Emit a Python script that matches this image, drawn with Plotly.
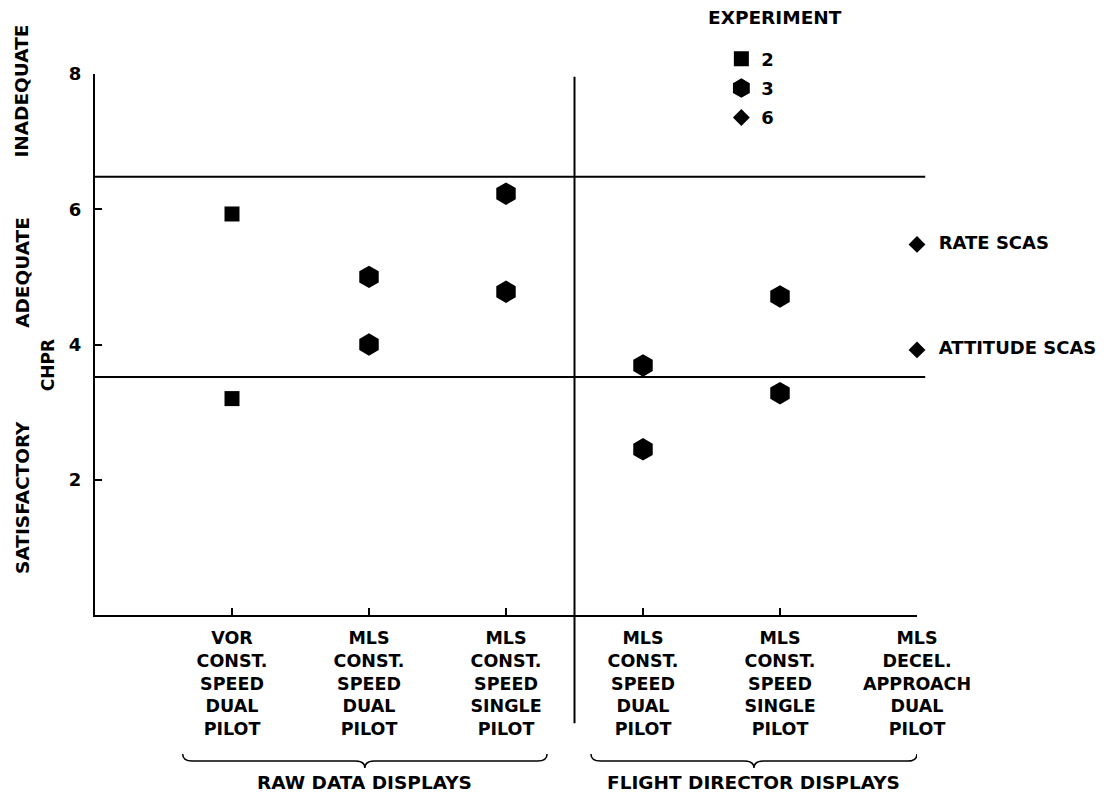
import plotly.graph_objects as go

# category axis (positions 1..6)
positions = [1, 2, 3, 4, 5, 6]
categories = [
    "VOR<br>CONST.<br>SPEED<br>DUAL<br>PILOT",
    "MLS<br>CONST.<br>SPEED<br>DUAL<br>PILOT",
    "MLS<br>CONST.<br>SPEED<br>SINGLE<br>PILOT",
    "MLS<br>CONST.<br>SPEED<br>DUAL<br>PILOT",
    "MLS<br>CONST.<br>SPEED<br>SINGLE<br>PILOT",
    "MLS<br>DECEL.<br>APPROACH<br>DUAL<br>PILOT",
]
y_ticks = [2, 4, 6, 8]

# experiment 2 (squares)
exp2_x = [1, 1]
exp2_y = [5.93, 3.2]
# experiment 3 (hexagons)
exp3_x = [2, 2, 3, 3, 4, 4, 5, 5]
exp3_y = [5.0, 4.0, 6.23, 4.78, 3.69, 2.45, 4.71, 3.28]
# experiment 6 (diamonds)
exp6_x = [6, 6]
exp6_y = [5.48, 3.92]
exp6_labels = ["RATE SCAS", "ATTITUDE SCAS"]

# rating boundaries
upper_limit = 6.48
lower_limit = 3.52
divider_x = 3.5

# groups under the axis
groups = ["RAW DATA DISPLAYS", "FLIGHT DIRECTOR DISPLAYS"]
group_start = [0.64, 3.62]
group_end = [3.3, 6.0]

zones = ["INADEQUATE", "ADEQUATE", "SATISFACTORY"]
zone_pos = [0.969, 0.634, 0.218]

FONT = "DejaVu Sans"

fig = go.Figure()

fig.add_trace(go.Scatter(
    x=exp2_x, y=exp2_y, mode="markers", name="2", legendgroup="e2",
    marker=dict(symbol="square", size=15, color="black"),
    cliponaxis=False
))
fig.add_trace(go.Scatter(
    x=exp3_x, y=exp3_y, mode="markers", name="3", legendgroup="e3",
    marker=dict(symbol="hexagon", size=19, color="black",
                line=dict(color="black", width=3)),
    cliponaxis=False
))
fig.add_trace(go.Scatter(
    x=exp6_x, y=exp6_y, mode="markers+text", name="6", legendgroup="e6",
    text=["  " + s for s in exp6_labels], textposition="middle right",
    textfont=dict(family=FONT, size=18, color="black", weight="bold"),
    marker=dict(symbol="diamond", size=13, color="black"),
    cliponaxis=False
))

shapes = []
for yv in [upper_limit, lower_limit]:
    shapes.append(dict(type="line", xref="paper", yref="y", x0=0, x1=1.01,
                       y0=yv, y1=yv, line=dict(color="black", width=2)))
shapes.append(dict(type="line", xref="x", yref="paper", x0=divider_x, x1=divider_x,
                   y0=-0.2, y1=0.995, line=dict(color="black", width=2)))

# curly braces
yt, yl, yp = -0.257, -0.270, -0.283
for x0, x1 in zip(group_start, group_end):
    xc = (x0 + x1) / 2
    d = 0.07
    path = (f"M {x0},{yt} Q {x0},{yl} {x0 + d},{yl} L {xc - d},{yl} "
            f"Q {xc},{yl} {xc},{yp} Q {xc},{yl} {xc + d},{yl} "
            f"L {x1 - d},{yl} Q {x1},{yl} {x1},{yt}")
    shapes.append(dict(type="path", xref="x", yref="paper", path=path,
                       line=dict(color="black", width=1.5)))

annotations = []
for g, x0, x1 in zip(groups, group_start, group_end):
    annotations.append(dict(text=g, x=(x0 + x1) / 2, xref="x", y=-0.31, yref="paper",
                            showarrow=False, xanchor="center", yanchor="middle",
                            font=dict(family=FONT, size=18.5, color="black", weight="bold")))
for z, yv in zip(zones, zone_pos):
    annotations.append(dict(text=z, x=-0.089, xref="paper", y=yv, yref="paper",
                            textangle=-90, showarrow=False, xanchor="center", yanchor="middle",
                            font=dict(family=FONT, size=18.5, color="black", weight="bold")))
annotations.append(dict(text="CHPR", x=-0.057, xref="paper", y=0.462, yref="paper",
                        textangle=-90, showarrow=False, xanchor="center", yanchor="middle",
                        font=dict(family=FONT, size=17, color="black", weight="bold")))
annotations.append(dict(text="EXPERIMENT", x=0.743, xref="paper", y=1.105, yref="paper",
                        xanchor="left", yanchor="middle", showarrow=False,
                        font=dict(family=FONT, size=18.5, color="black", weight="bold")))

fig.update_layout(
    width=1102, height=790,
    margin=dict(l=87, r=193, t=66, b=183),
    paper_bgcolor="white", plot_bgcolor="white",
    font=dict(family=FONT, size=17, color="black", weight="bold"),
    showlegend=True,
    legend=dict(x=0.762, y=1.062, xanchor="left", yanchor="top",
                bgcolor="rgba(0,0,0,0)", font=dict(size=18),
                traceorder="grouped", tracegroupgap=3),
    shapes=shapes,
    annotations=annotations,
)

fig.update_xaxes(range=[0, 6], tickvals=positions, ticktext=categories,
                 showgrid=False, zeroline=False, showline=True, linecolor="black",
                 linewidth=2, ticks="inside", ticklen=7, tickwidth=2, tickcolor="black",
                 tickfont=dict(size=17.5), ticklabelstandoff=6)
fig.update_yaxes(range=[0, 8], tickvals=y_ticks,
                 showgrid=False, zeroline=False, showline=True, linecolor="black",
                 linewidth=2, ticks="inside", ticklen=7, tickwidth=2, tickcolor="black",
                 tickfont=dict(size=18), ticklabelstandoff=8)

fig.write_html("out.html")
